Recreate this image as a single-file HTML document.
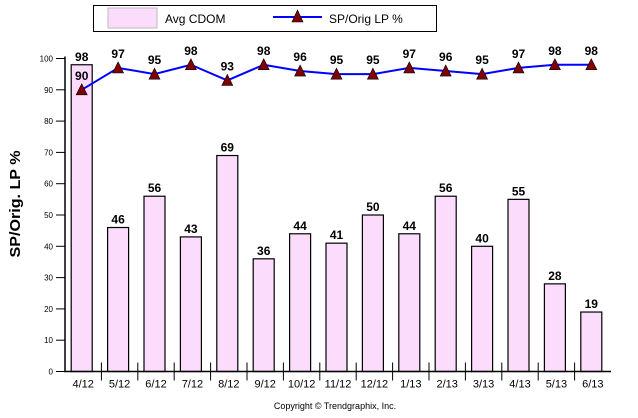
<!DOCTYPE html>
<html><head><meta charset="utf-8"><style>
body{margin:0;background:#fff;}
svg{display:block;font-family:"Liberation Sans",Arial,sans-serif;}
</style></head><body>
<svg id="chart" width="638" height="418">
<g>
<rect x="93.5" y="5.5" width="343" height="26" fill="#fff" stroke="#000"/>
<rect x="108" y="8" width="49" height="20" fill="#fcdcfc" stroke="#bbb"/>
<text x="165" y="23" font-size="12">Avg CDOM</text>
<line x1="273" y1="17" x2="322" y2="17" stroke="#0000ff" stroke-width="2"/>
<polygon points="297.5,10 303,22 292,22" fill="#800000" stroke="#000" stroke-width="0.6"/>
<text x="329" y="23" font-size="12">SP/Orig LP %</text>
</g>
<text transform="translate(20,204) rotate(-90)" text-anchor="middle" font-size="15" font-weight="bold" textLength="107" lengthAdjust="spacingAndGlyphs">SP/Orig. LP %</text>
<text x="335" y="409" text-anchor="middle" font-size="9">Copyright © Trendgraphix, Inc.</text>
<g id="plot"></g>
</svg>
<script>
const categories=["4/12","5/12","6/12","7/12","8/12","9/12","10/12","11/12","12/12","1/13","2/13","3/13","4/13","5/13","6/13"];
const cdom=[98,46,56,43,69,36,44,41,50,44,56,40,55,28,19];
const spPct=[90,97,95,98,93,98,96,95,95,97,96,95,97,98,98];
const yTicks=[0,10,20,30,40,50,60,70,80,90,100];
const NS="http://www.w3.org/2000/svg";
const g=document.getElementById('plot');
const x0=65,x1=611,y0=371.5,y100=58.5;
const step=(x1-x0)/categories.length;
const Y=v=>y0-(v/100)*(y0-y100);
const X=i=>x0+step*(i+0.5)-1.5;
function mk(t,a,txt){const e=document.createElementNS(NS,t);for(const k in a)e.setAttribute(k,a[k]);if(txt!=null)e.textContent=txt;g.appendChild(e);return e;}
cdom.forEach((v,i)=>{
 const b=mk('rect',{x:X(i)-10.5,y:Y(v),width:21,height:y0-Y(v),fill:'#fcdcfc',stroke:'#000','stroke-width':1.2});
 
 
 const t=mk('text',{x:X(i),y:Y(v)-4,'text-anchor':'middle','font-size':12,'font-weight':'bold'},v);
 
 
});
const ax=mk('path',{d:`M${x0},${y100-2}V${y0}H${x1}`,stroke:'#000',fill:'none','stroke-width':1.5});


yTicks.forEach(v=>{
 mk('line',{x1:x0-9,x2:x0,y1:Y(v),y2:Y(v),stroke:'#000'});
 const t=mk('text',{x:x0-12,y:Y(v)+3,'text-anchor':'end','font-size':8},v);
 
 
});
categories.forEach((c,i)=>{
 if(i>0)mk('line',{x1:x0+step*i,x2:x0+step*i,y1:y0-9,y2:y0+9,stroke:'#000'});
 const t=mk('text',{x:X(i)+1.5,y:y0+16,'text-anchor':'middle','font-size':11},c);
 
 
});
const ln=mk('polyline',{points:spPct.map((v,i)=>X(i)+','+Y(v)).join(' '),fill:'none',stroke:'#0000ff','stroke-width':2});


spPct.forEach((v,i)=>{
 const p=mk('polygon',{points:`${X(i)},${Y(v)-6} ${X(i)+5.5},${Y(v)+5} ${X(i)-5.5},${Y(v)+5}`,fill:'#800000',stroke:'#000','stroke-width':0.6});
 
 
 const t=mk('text',{x:X(i),y:Y(v)-10,'text-anchor':'middle','font-size':12,'font-weight':'bold'},v);
 
 
});
</script>
</body></html>
